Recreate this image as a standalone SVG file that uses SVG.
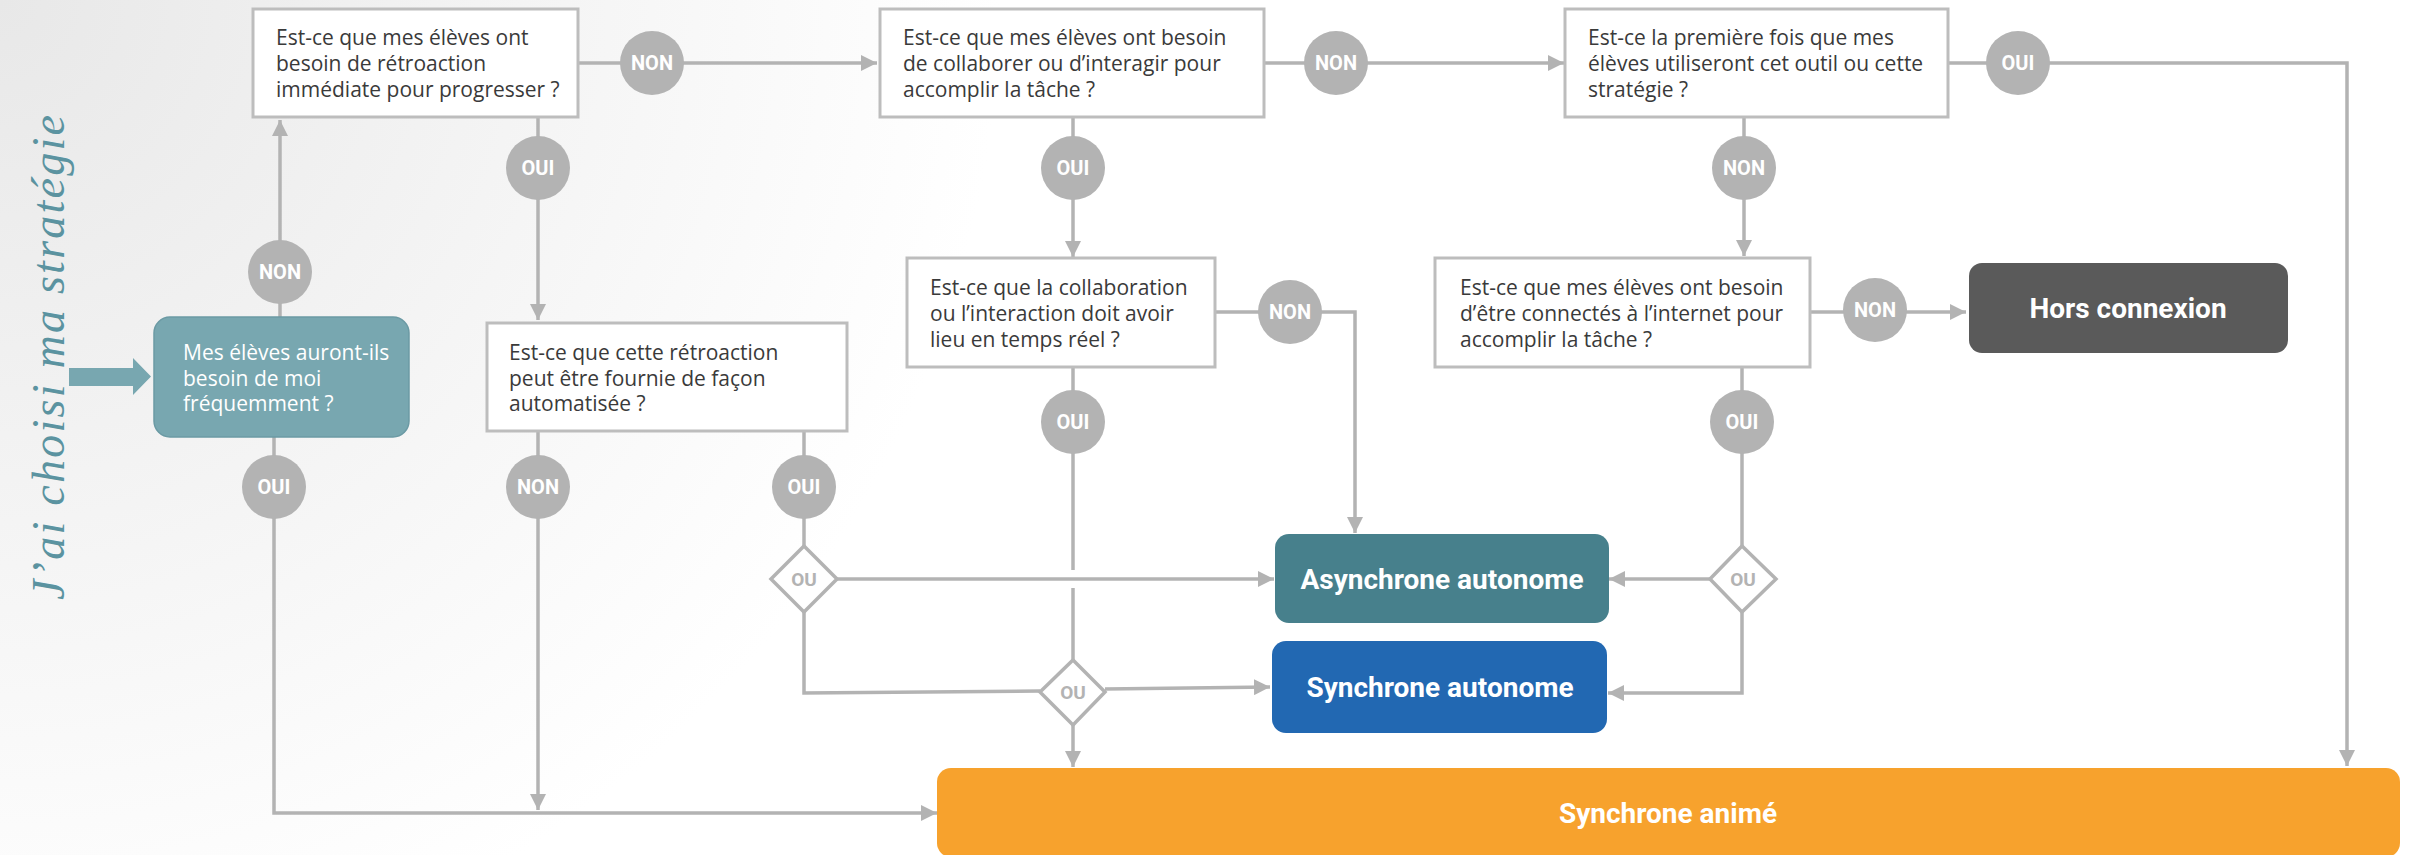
<svg xmlns="http://www.w3.org/2000/svg" width="2412" height="855" viewBox="0 0 2412 855">
<defs>
<radialGradient id="bg" cx="0" cy="0" r="1000" gradientUnits="userSpaceOnUse">
<stop offset="0" stop-color="#e8e8e8"/>
<stop offset="1" stop-color="#ffffff"/>
</radialGradient>
<marker id="ah" markerWidth="16" markerHeight="16" refX="16" refY="8" orient="auto" markerUnits="userSpaceOnUse">
<path d="M0,0 L16,8 L0,16 z" fill="#b3b3b3"/>
</marker>
<style>
.q{fill:#ffffff;stroke:#bdbdbd;stroke-width:3}
.qt{font-family:"Open Sans","Noto Sans",sans-serif;font-size:21px;fill:#3a3a3a}
.st{font-family:"Open Sans","Noto Sans",sans-serif;font-size:21px;fill:#ffffff}
.c{fill:#b3b3b3}
.ct{font-family:Roboto,"Liberation Sans",sans-serif;font-weight:bold;font-size:20px;fill:#ffffff;text-anchor:middle}
.d{fill:#ffffff;stroke:#b3b3b3;stroke-width:3.5}
.dt{font-family:Roboto,"Liberation Sans",sans-serif;font-weight:bold;font-size:19px;fill:#b3b3b3;text-anchor:middle}
.ln{fill:none;stroke:#b3b3b3;stroke-width:3.5}
.ar{marker-end:url(#ah)}
.rt{font-family:Roboto,"Liberation Sans",sans-serif;font-weight:bold;font-size:28px;fill:#ffffff;text-anchor:middle}
</style>
</defs>
<rect x="0" y="0" width="2412" height="855" fill="url(#bg)"/>

<g id="title">
<text transform="translate(64,600) rotate(-90)" font-family="'Liberation Serif','DejaVu Serif',serif" font-style="italic" font-size="46" fill="#5b93a0" textLength="485" lengthAdjust="spacing">J’ai choisi ma stratégie</text>
<polygon points="69,368 133,368 133,358 151,376.5 133,395 133,386 69,386" fill="#78a7b0"/>
</g>

<g id="connectors">
<path class="ln ar" d="M280,317 V120"/>
<path class="ln ar" d="M274,436 V813 H937"/>
<path class="ln ar" d="M578,63 H877"/>
<path class="ln ar" d="M538,117 V320"/>
<path class="ln ar" d="M538,431 V810"/>
<path class="ln" d="M804,431 V546"/>
<path class="ln ar" d="M837,579 H1274"/>
<path class="ln" d="M804,612 V693 L1040,691"/>
<path class="ln ar" d="M1105,689 L1270,687"/>
<path class="ln ar" d="M1073,725 V767"/>
<path class="ln ar" d="M1264,63 H1564"/>
<path class="ln ar" d="M1073,117 V257"/>
<path class="ln" d="M1073,367 V570"/>
<path class="ln" d="M1073,588 V660"/>
<path class="ln ar" d="M1215,312 H1355 V533"/>
<path class="ln ar" d="M1948,63 H2347 V766"/>
<path class="ln ar" d="M1744,117 V256"/>
<path class="ln ar" d="M1810,312 H1966"/>
<path class="ln" d="M1742,367 V546"/>
<path class="ln ar" d="M1710,579 H1609"/>
<path class="ln ar" d="M1742,612 V693 H1608"/>

<circle class="c" cx="280" cy="272" r="32"/><text class="ct" x="280" y="279">NON</text>
<circle class="c" cx="274" cy="487" r="32"/><text class="ct" x="274" y="494">OUI</text>
<circle class="c" cx="652" cy="63" r="32"/><text class="ct" x="652" y="70">NON</text>
<circle class="c" cx="538" cy="168" r="32"/><text class="ct" x="538" y="175">OUI</text>
<circle class="c" cx="538" cy="487" r="32"/><text class="ct" x="538" y="494">NON</text>
<circle class="c" cx="804" cy="487" r="32"/><text class="ct" x="804" y="494">OUI</text>
<circle class="c" cx="1336" cy="63" r="32"/><text class="ct" x="1336" y="70">NON</text>
<circle class="c" cx="1073" cy="168" r="32"/><text class="ct" x="1073" y="175">OUI</text>
<circle class="c" cx="1290" cy="312" r="32"/><text class="ct" x="1290" y="319">NON</text>
<circle class="c" cx="1073" cy="422" r="32"/><text class="ct" x="1073" y="429">OUI</text>
<circle class="c" cx="2018" cy="63" r="32"/><text class="ct" x="2018" y="70">OUI</text>
<circle class="c" cx="1744" cy="168" r="32"/><text class="ct" x="1744" y="175">NON</text>
<circle class="c" cx="1875" cy="310" r="32"/><text class="ct" x="1875" y="317">NON</text>
<circle class="c" cx="1742" cy="422" r="32"/><text class="ct" x="1742" y="429">OUI</text>

<polygon class="d" points="804,546 837,579 804,612 771,579"/><text class="dt" x="804" y="586">OU</text>
<polygon class="d" points="1073,660 1105,692 1073,725 1040,692"/><text class="dt" x="1073" y="699">OU</text>
<polygon class="d" points="1742,546 1776,579 1742,612 1710,579"/><text class="dt" x="1743" y="586">OU</text>
</g>

<g id="start">
<rect x="154" y="317" width="255" height="120" rx="16" fill="#78a7b0" stroke="#6b9aa4" stroke-width="1.5"/>
<text class="st" x="183" y="360">Mes élèves auront-ils</text>
<text class="st" x="183" y="386">besoin de moi</text>
<text class="st" x="183" y="411">fréquemment ?</text>
</g>

<g id="q1">
<rect class="q" x="253" y="9" width="325" height="108"/>
<text class="qt" x="276" y="45">Est-ce que mes élèves ont</text>
<text class="qt" x="276" y="71">besoin de rétroaction</text>
<text class="qt" x="276" y="97">immédiate pour progresser ?</text>
</g>

<g id="q2">
<rect class="q" x="487" y="323" width="360" height="108"/>
<text class="qt" x="509" y="360">Est-ce que cette rétroaction</text>
<text class="qt" x="509" y="386">peut être fournie de façon</text>
<text class="qt" x="509" y="411">automatisée ?</text>
</g>

<g id="q3">
<rect class="q" x="880" y="9" width="384" height="108"/>
<text class="qt" x="903" y="45">Est-ce que mes élèves ont besoin</text>
<text class="qt" x="903" y="71">de collaborer ou d’interagir pour</text>
<text class="qt" x="903" y="97">accomplir la tâche ?</text>
</g>

<g id="q4">
<rect class="q" x="1565" y="9" width="383" height="108"/>
<text class="qt" x="1588" y="45">Est-ce la première fois que mes</text>
<text class="qt" x="1588" y="71">élèves utiliseront cet outil ou cette</text>
<text class="qt" x="1588" y="97">stratégie ?</text>
</g>

<g id="q5">
<rect class="q" x="907" y="258" width="308" height="109"/>
<text class="qt" x="930" y="295">Est-ce que la collaboration</text>
<text class="qt" x="930" y="321">ou l’interaction doit avoir</text>
<text class="qt" x="930" y="347">lieu en temps réel ?</text>
</g>

<g id="q6">
<rect class="q" x="1435" y="258" width="375" height="109"/>
<text class="qt" x="1460" y="295">Est-ce que mes élèves ont besoin</text>
<text class="qt" x="1460" y="321">d’être connectés à l’internet pour</text>
<text class="qt" x="1460" y="347">accomplir la tâche ?</text>
</g>

<g id="hors">
<rect x="1969" y="263" width="319" height="90" rx="13" fill="#5a5a5a"/>
<text class="rt" x="2128" y="318">Hors connexion</text>
</g>

<g id="async">
<rect x="1275" y="534" width="334" height="89" rx="14" fill="#47808c"/>
<text class="rt" x="1442" y="589">Asynchrone autonome</text>
</g>

<g id="sync">
<rect x="1272" y="641" width="335" height="92" rx="14" fill="#2268b2"/>
<text class="rt" x="1440" y="697">Synchrone autonome</text>
</g>

<g id="anime">
<rect x="937" y="768" width="1463" height="89" rx="14" fill="#f7a22d"/>
<text class="rt" x="1668" y="823">Synchrone animé</text>
</g>
</svg>
